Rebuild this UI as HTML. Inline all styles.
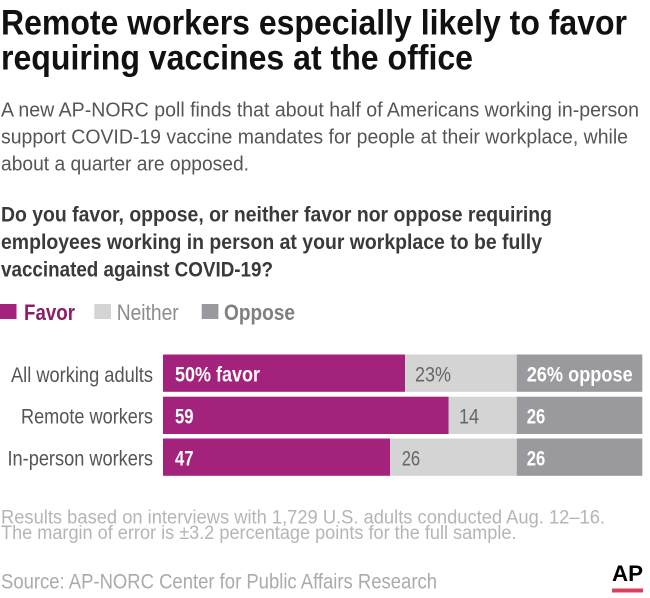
<!DOCTYPE html>
<html>
<head>
<meta charset="utf-8">
<style>
  html, body { margin: 0; padding: 0; background: #ffffff; }
  svg { display: block; }
  text { font-family: "Liberation Sans", Arial, sans-serif; }
</style>
</head>
<body>
<svg width="650" height="598" viewBox="0 0 650 598" xmlns="http://www.w3.org/2000/svg">
  <rect x="0" y="0" width="650" height="598" fill="#ffffff"/>

  <!-- Title -->
  <text x="1" y="34.5" font-size="35" font-weight="bold" fill="#111111" textLength="626" lengthAdjust="spacingAndGlyphs">Remote workers especially likely to favor</text>
  <text x="1" y="69.5" font-size="35" font-weight="bold" fill="#111111" textLength="472" lengthAdjust="spacingAndGlyphs">requiring vaccines at the office</text>

  <!-- Subtitle -->
  <text x="1" y="116.5" font-size="20.5" fill="#555555" textLength="638" lengthAdjust="spacingAndGlyphs">A new AP-NORC poll finds that about half of Americans working in-person</text>
  <text x="1" y="143.5" font-size="20.5" fill="#555555" textLength="627" lengthAdjust="spacingAndGlyphs">support COVID-19 vaccine mandates for people at their workplace, while</text>
  <text x="1" y="170.5" font-size="20.5" fill="#555555" textLength="248" lengthAdjust="spacingAndGlyphs">about a quarter are opposed.</text>

  <!-- Question -->
  <text x="1" y="221.7" font-size="21" font-weight="bold" fill="#3a3a3a" textLength="551" lengthAdjust="spacingAndGlyphs">Do you favor, oppose, or neither favor nor oppose requiring</text>
  <text x="1" y="249" font-size="21" font-weight="bold" fill="#3a3a3a" textLength="541" lengthAdjust="spacingAndGlyphs">employees working in person at your workplace to be fully</text>
  <text x="1" y="276.5" font-size="21" font-weight="bold" fill="#3a3a3a" textLength="272" lengthAdjust="spacingAndGlyphs">vaccinated against COVID-19?</text>

  <!-- Legend -->
  <rect x="0" y="304" width="16.5" height="15" fill="#a3227c"/>
  <text x="24" y="320" font-size="22.5" font-weight="bold" fill="#8b1d6a" textLength="51" lengthAdjust="spacingAndGlyphs">Favor</text>
  <rect x="94.3" y="304" width="16.7" height="15" fill="#d4d4d4"/>
  <text x="116.7" y="320" font-size="22.5" fill="#8c8c8c" textLength="62" lengthAdjust="spacingAndGlyphs">Neither</text>
  <rect x="201.7" y="304" width="16.7" height="15" fill="#9a9a9e"/>
  <text x="224" y="320" font-size="22.5" font-weight="bold" fill="#808080" textLength="71" lengthAdjust="spacingAndGlyphs">Oppose</text>

  <!-- Row labels -->
  <text x="153" y="382" font-size="21.5" fill="#555555" text-anchor="end" textLength="142" lengthAdjust="spacingAndGlyphs">All working adults</text>
  <text x="153" y="423.5" font-size="21.5" fill="#555555" text-anchor="end" textLength="132" lengthAdjust="spacingAndGlyphs">Remote workers</text>
  <text x="153" y="465.5" font-size="21.5" fill="#555555" text-anchor="end" textLength="145.5" lengthAdjust="spacingAndGlyphs">In-person workers</text>

  <!-- Row 1 -->
  <rect x="163" y="354.5" width="242" height="37.3" fill="#a3227c"/>
  <rect x="405" y="354.5" width="111.7" height="37.3" fill="#d4d4d4"/>
  <rect x="516.7" y="354.5" width="125.6" height="37.3" fill="#9a9a9e"/>
  <text x="175" y="381.7" font-size="21.5" font-weight="bold" fill="#ffffff" textLength="85" lengthAdjust="spacingAndGlyphs">50% favor</text>
  <text x="415" y="381.7" font-size="21.5" fill="#666666" textLength="36" lengthAdjust="spacingAndGlyphs">23%</text>
  <text x="526.7" y="381.7" font-size="21.5" font-weight="bold" fill="#ffffff" textLength="106" lengthAdjust="spacingAndGlyphs">26% oppose</text>

  <!-- Row 2 -->
  <rect x="163" y="396.7" width="285.7" height="37.3" fill="#a3227c"/>
  <rect x="448.7" y="396.7" width="68" height="37.3" fill="#d4d4d4"/>
  <rect x="516.7" y="396.7" width="125.6" height="37.3" fill="#9a9a9e"/>
  <text x="175" y="423.5" font-size="21.5" font-weight="bold" fill="#ffffff" textLength="18.5" lengthAdjust="spacingAndGlyphs">59</text>
  <text x="459" y="423.5" font-size="21.5" fill="#666666" textLength="20" lengthAdjust="spacingAndGlyphs">14</text>
  <text x="526.7" y="423.5" font-size="21.5" font-weight="bold" fill="#ffffff" textLength="18.5" lengthAdjust="spacingAndGlyphs">26</text>

  <!-- Row 3 -->
  <rect x="163" y="438.5" width="227" height="37.3" fill="#a3227c"/>
  <rect x="390" y="438.5" width="126.7" height="37.3" fill="#d4d4d4"/>
  <rect x="516.7" y="438.5" width="125.6" height="37.3" fill="#9a9a9e"/>
  <text x="175" y="465.5" font-size="21.5" font-weight="bold" fill="#ffffff" textLength="18.5" lengthAdjust="spacingAndGlyphs">47</text>
  <text x="401.7" y="465.5" font-size="21.5" fill="#666666" textLength="18.5" lengthAdjust="spacingAndGlyphs">26</text>
  <text x="526.7" y="465.5" font-size="21.5" font-weight="bold" fill="#ffffff" textLength="18.5" lengthAdjust="spacingAndGlyphs">26</text>

  <!-- Footnote -->
  <text x="1" y="523.3" font-size="19" fill="#b5b5b5" textLength="604" lengthAdjust="spacingAndGlyphs">Results based on interviews with 1,729 U.S. adults conducted Aug. 12–16.</text>
  <text x="1" y="539" font-size="19" fill="#b5b5b5" textLength="515.5" lengthAdjust="spacingAndGlyphs">The margin of error is ±3.2 percentage points for the full sample.</text>
  <text x="1" y="588.3" font-size="21" fill="#ababab" textLength="436" lengthAdjust="spacingAndGlyphs">Source: AP-NORC Center for Public Affairs Research</text>

  <!-- AP logo -->
  <text x="612" y="581" font-size="22" font-weight="bold" fill="#000000" textLength="31" lengthAdjust="spacingAndGlyphs">AP</text>
  <rect x="612" y="588.5" width="31" height="4" fill="#d9405a"/>
</svg>
</body>
</html>
